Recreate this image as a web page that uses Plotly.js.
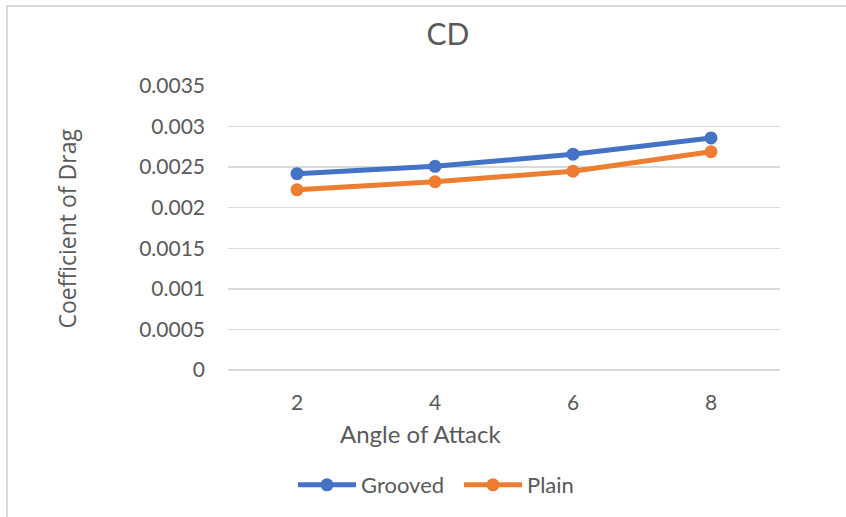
<!DOCTYPE html>
<html>
<head>
<meta charset="utf-8">
<script src="https://cdn.plot.ly/plotly-3.0.1.min.js"></script>
<style>
  html, body { margin: 0; padding: 0; background: #ffffff; }
  #wrap { position: relative; width: 846px; height: 517px; overflow: hidden; }
  #frame { position: absolute; left: 6px; top: 5px; width: 900px; height: 600px;
           border-left: 2px solid #D9D9D9; border-top: 2px solid #D9D9D9; pointer-events: none; }
  #chart { position: absolute; left: 0; top: 0; width: 846px; height: 517px; }
</style>
</head>
<body>
<div id="wrap">
  <div id="chart"></div>
  <div id="frame"></div>
</div>
<script>
// Angle of attack (degrees) and drag coefficients for each blade surface
const angles = ["2", "4", "6", "8"];
const grooved = [0.00242, 0.00251, 0.00266, 0.00286];
const plain = [0.00222, 0.00232, 0.00245, 0.00269];
const yTicks = [0, 0.0005, 0.001, 0.0015, 0.002, 0.0025, 0.003, 0.0035];
const yTickText = ["0", "0.0005", "0.001", "0.0015", "0.002", "0.0025", "0.003", "0.0035"];

const textColor = "#595959";
const gridColor = "#D9D9D9";
const baseFont = "Lato, Carlito, 'Liberation Sans', sans-serif";

const traces = [
  {
    x: angles, y: grooved, name: "Grooved", type: "scatter", mode: "lines+markers",
    line: { color: "#4472C4", width: 5 },
    marker: { color: "#4472C4", size: 13 }
  },
  {
    x: angles, y: plain, name: "Plain", type: "scatter", mode: "lines+markers",
    line: { color: "#ED7D31", width: 5 },
    marker: { color: "#ED7D31", size: 13 }
  }
];

const layout = {
  width: 846, height: 517,
  margin: { l: 228, r: 66, t: 86, b: 146 },
  paper_bgcolor: "#ffffff", plot_bgcolor: "#ffffff",
  font: { family: baseFont, color: textColor, size: 21 },
  title: {
    text: "CD",
    font: { family: baseFont, size: 30, color: textColor },
    xref: "container", x: 448 / 846, xanchor: "center",
    yref: "container", y: 1 - 34 / 517, yanchor: "middle"
  },
  xaxis: {
    type: "category",
    range: [-0.5, 3.5],
    showgrid: false, zeroline: false, showline: false,
    ticks: "", ticklabelstandoff: 18,
    tickfont: { family: baseFont, size: 21, color: textColor },
    fixedrange: true
  },
  yaxis: {
    range: [0, 0.0035],
    tickvals: yTicks, ticktext: yTickText,
    showgrid: true, gridcolor: gridColor, gridwidth: 1.5,
    zeroline: true, zerolinecolor: gridColor, zerolinewidth: 1.5,
    showline: false, ticks: "", ticklabelstandoff: 22,
    tickfont: { family: baseFont, size: 21, color: textColor },
    fixedrange: true
  },
  annotations: [
    {
      text: "Angle of Attack", showarrow: false,
      xref: "paper", x: (421 - 228) / 552, xanchor: "center",
      yref: "paper", y: (371 - 435) / 285, yanchor: "middle",
      font: { family: baseFont, size: 24, color: textColor }
    },
    {
      text: "Coefficient of Drag", showarrow: false, textangle: -90,
      xref: "paper", x: (67 - 228) / 552, xanchor: "center",
      yref: "paper", y: (371 - 229) / 285, yanchor: "middle",
      font: { family: "'Open Sans', sans-serif", size: 23, color: textColor }
    }
  ],
  showlegend: true,
  legend: {
    orientation: "h",
    xref: "paper", x: (459 - 228) / 552, xanchor: "center",
    yref: "paper", y: (371 - 485) / 285, yanchor: "middle",
    font: { family: baseFont, size: 22, color: textColor },
    itemwidth: 58, entrywidth: 93, tracegroupgap: 0,
    bgcolor: "rgba(0,0,0,0)"
  }
};

Plotly.newPlot("chart", traces, layout, { displayModeBar: false, staticPlot: true });
</script>
</body>
</html>
